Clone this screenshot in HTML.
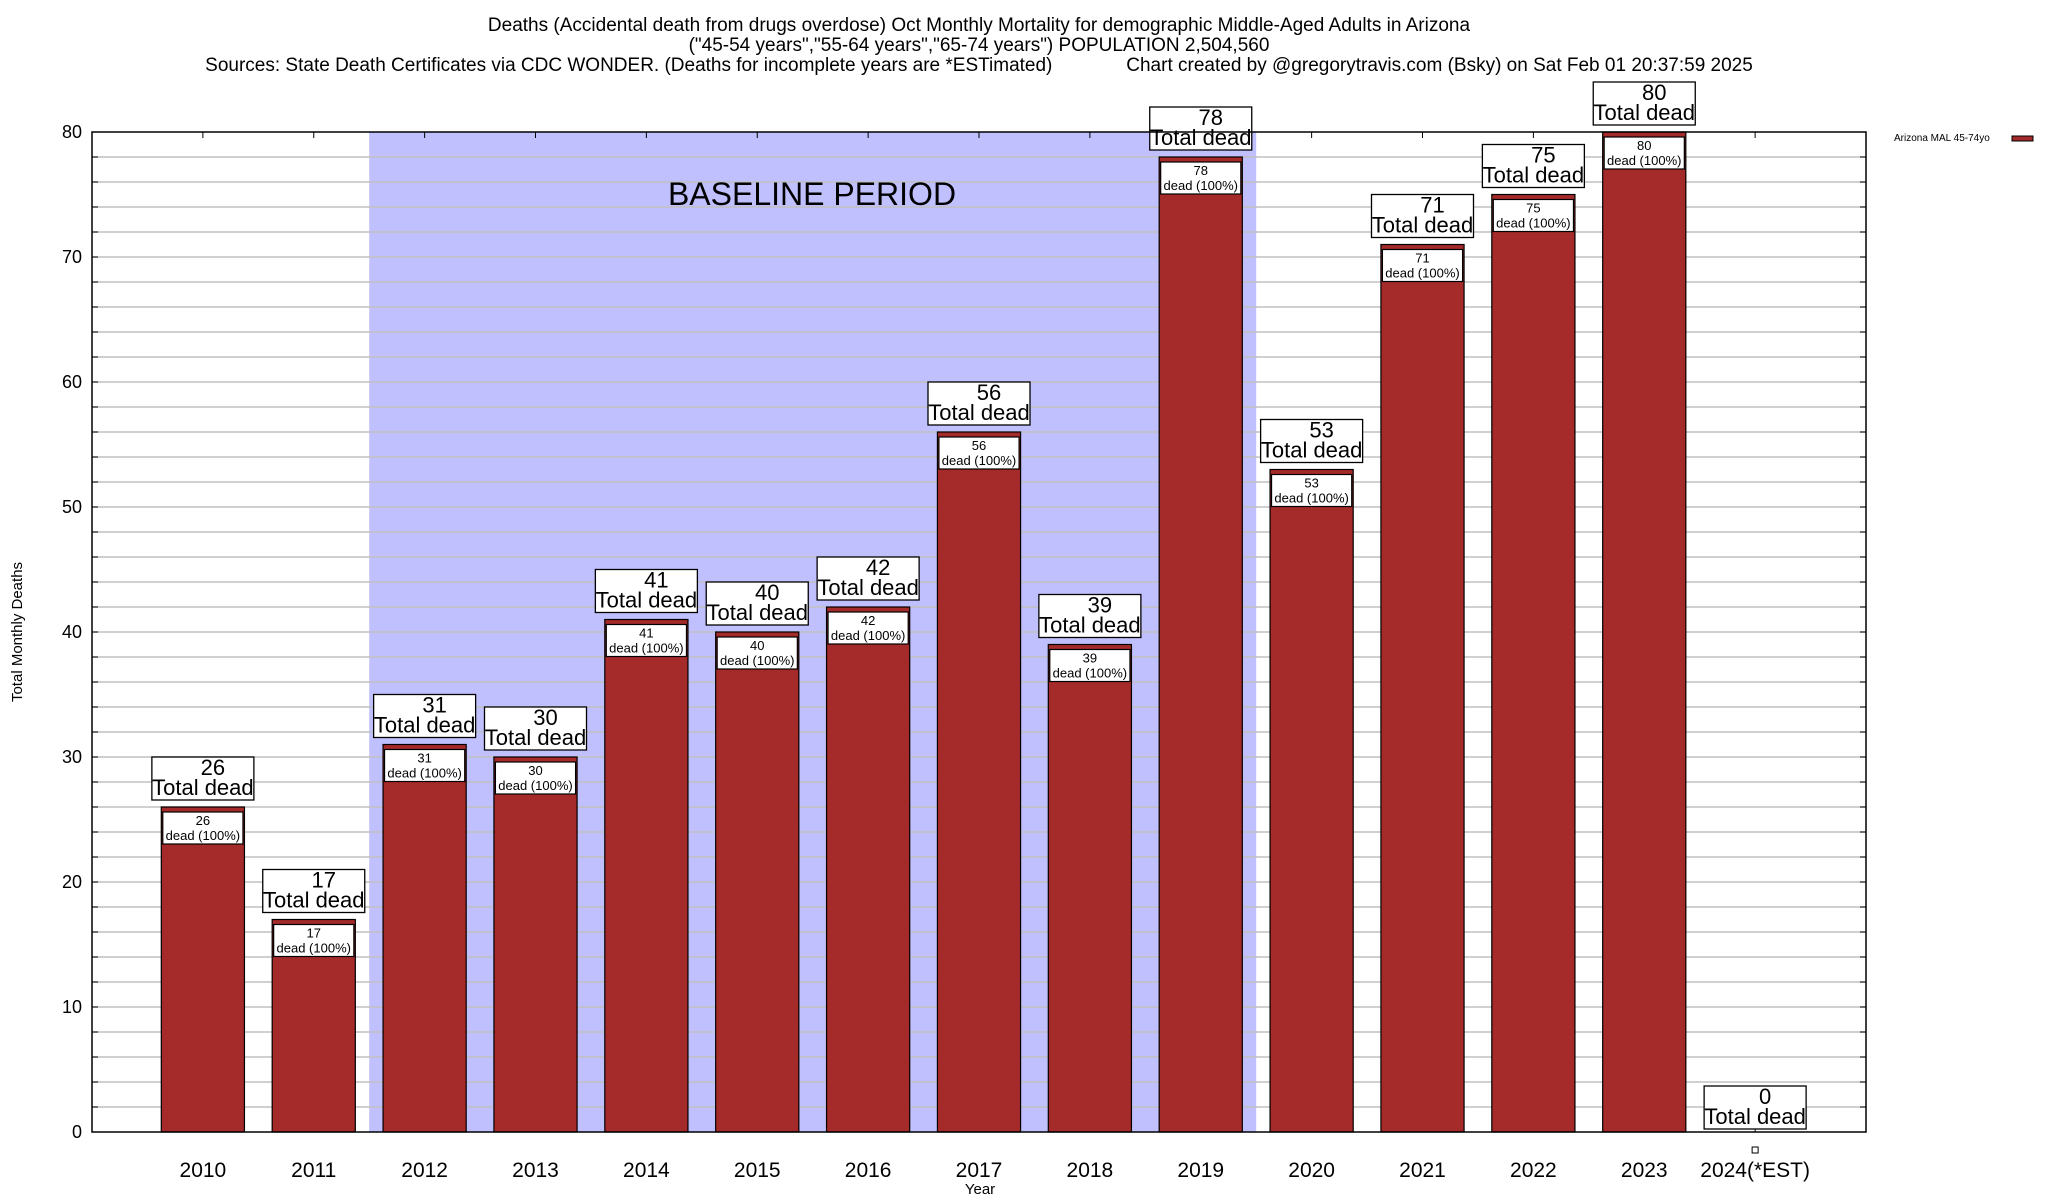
<!DOCTYPE html>
<html><head><meta charset="utf-8"><style>
html,body{margin:0;padding:0;background:#fff;}
svg{display:block;font-family:"Liberation Sans",Arial,sans-serif;}
</style></head><body>
<svg id="chart" width="2048" height="1200" viewBox="0 0 2048 1200" xmlns="http://www.w3.org/2000/svg">
<g id="bg"></g><g id="grid"></g><g id="bars"></g><g id="labels"></g>
<g font-size="19" text-anchor="middle" fill="#000">
<text x="979" y="31">Deaths (Accidental death from drugs overdose) Oct Monthly Mortality for demographic Middle-Aged Adults in Arizona</text>
<text x="979" y="51">("45-54 years","55-64 years","65-74 years") POPULATION 2,504,560</text>
<text x="979" y="71" xml:space="preserve">Sources: State Death Certificates via CDC WONDER. (Deaths for incomplete years are *ESTimated)              Chart created by @gregorytravis.com (Bsky) on Sat Feb 01 20:37:59 2025</text>
</g>
<text x="22" y="632" font-size="15" text-anchor="middle" transform="rotate(-90 22 632)">Total Monthly Deaths</text>
<text x="980" y="1194" font-size="15" text-anchor="middle">Year</text>
<text x="812" y="205" font-size="32" text-anchor="middle">BASELINE PERIOD</text>
<g>
<text x="1894" y="141" font-size="10">Arizona MAL 45-74yo</text>
<rect x="2012" y="136" width="21" height="5" fill="#a52a2a" stroke="#000" stroke-width="1"/>
</g>
</svg>
<script>
const categories = ["2010","2011","2012","2013","2014","2015","2016","2017","2018","2019","2020","2021","2022","2023","2024(*EST)"];
const deaths = [26,17,31,30,41,40,42,56,39,78,53,71,75,80,0];
const yTicks = [0,10,20,30,40,50,60,70,80];
const baselineStart = 2;
const baselineEnd = 9;

const L=92,R=1866,T=132,B=1132,yMax=80;
const slot=(R-L)/(categories.length+1);
const xC=i=>L+slot*(i+1);
const yS=v=>B-(v/yMax)*(B-T);
const NS="http://www.w3.org/2000/svg";
function mk(tag,attrs,parent,txt){const e=document.createElementNS(NS,tag);for(const k in attrs)e.setAttribute(k,attrs[k]);if(txt!==undefined)e.textContent=txt;parent.appendChild(e);return e;}
const bg=document.getElementById('bg'),grid=document.getElementById('grid'),bars=document.getElementById('bars'),labels=document.getElementById('labels');

const sh=mk('rect',{x:xC(baselineStart)-slot/2,y:T,width:slot*(baselineEnd-baselineStart+1),height:B-T,fill:'#c0c0ff'},bg);



for(let v=2;v<yMax;v+=2){
  const y=yS(v);
  const g=mk('line',{x1:L,x2:R,y1:y,y2:y,stroke:'#c0c0c0','stroke-width':1.5},grid);
  
  
  mk('line',{x1:L,x2:L+6,y1:y,y2:y,stroke:'#000'},grid);
  mk('line',{x1:R-6,x2:R,y1:y,y2:y,stroke:'#000'},grid);
}
yTicks.forEach(v=>{
  const t=mk('text',{x:L-10,y:yS(v)+6,'font-size':18,'text-anchor':'end'},labels,String(v));
  
  
});
categories.forEach((c,i)=>{
  mk('line',{x1:xC(i),x2:xC(i),y1:T,y2:T+6,stroke:'#000'},grid);
  const t=mk('text',{x:xC(i),y:1177,'font-size':21,'text-anchor':'middle'},labels,c);
  
  
});

const bw=slot*0.75;
deaths.forEach((v,i)=>{
  const cx=xC(i),top=yS(v);
  if(v>0){
    const r=mk('rect',{x:cx-bw/2,y:top,width:bw,height:B-top,fill:'#a52a2a',stroke:'#000','stroke-width':1.2},bars);
    
    
    const ib=mk('rect',{x:cx-bw/2+1.5,y:top+5,width:bw-3,height:32,fill:'#fff',stroke:'#000','stroke-width':1.2},labels);
    
    
    mk('text',{x:cx,y:top+18,'font-size':13,'text-anchor':'middle'},labels,String(v));
    mk('text',{x:cx,y:top+33,'font-size':13,'text-anchor':'middle'},labels,'dead (100%)');
  } else {
    const m=mk('rect',{x:cx-3,y:1147,width:6,height:6,fill:'#fff',stroke:'#000','stroke-width':1},labels);
    
    
  }
  const bt=top-7-(v===0?-4:0);
  if(v===0) mk('line',{x1:cx,x2:cx,y1:B-3,y2:B,stroke:'#000'},labels);
  const ob=mk('rect',{x:cx-51,y:bt-43,width:102,height:43,fill:'#fff',stroke:'#000','stroke-width':1.3},labels);
  
  
  mk('text',{x:cx+10,y:bt-25,'font-size':22,'text-anchor':'middle'},labels,String(v));
  mk('text',{x:cx,y:bt-5,'font-size':22,'text-anchor':'middle'},labels,'Total dead');
});
const fr=mk('rect',{x:L,y:T,width:R-L,height:B-T,fill:'none',stroke:'#000','stroke-width':1.5},labels);


</script>
</body></html>
